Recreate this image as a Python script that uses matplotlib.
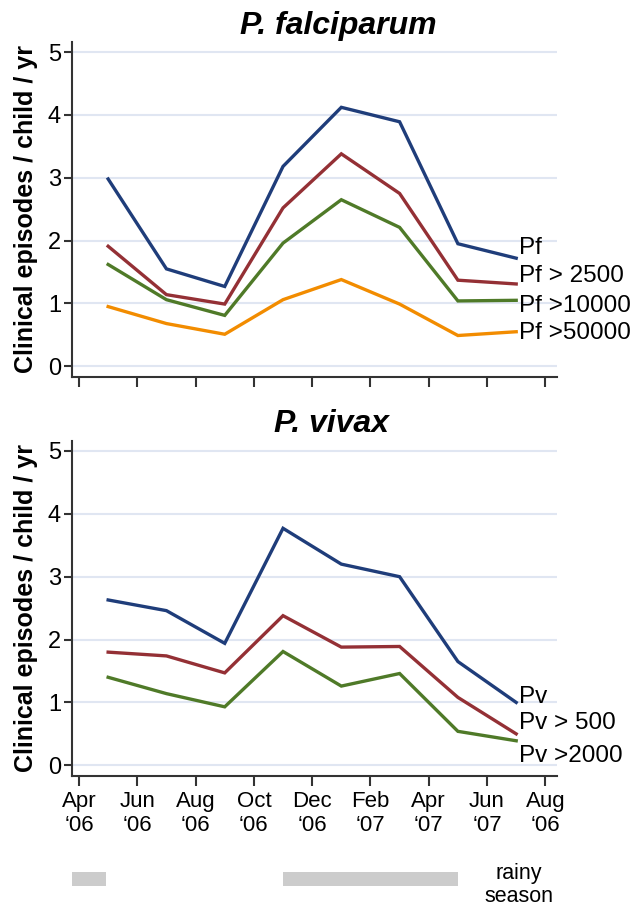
import numpy as np
from matplotlib import pyplot as plt
from matplotlib.patches import Rectangle

plt.rcParams["font.family"] = ["Liberation Sans", "DejaVu Sans"]

# months counted from Apr '06 (0) to Aug '07 (16)
tick_months = [0, 2, 4, 6, 8, 10, 12, 14, 16]
tick_labels = ["Apr\n\u201806", "Jun\n\u201806", "Aug\n\u201806", "Oct\n\u201806", "Dec\n\u201806",
               "Feb\n\u201807", "Apr\n\u201807", "Jun\n\u201807", "Aug\n\u201806"]
survey_months = [1, 3, 5, 7, 9, 11, 13, 15]

pf_all = [2.98, 1.55, 1.27, 3.18, 4.12, 3.89, 1.95, 1.72]
pf_2500 = [1.91, 1.14, 0.99, 2.52, 3.38, 2.75, 1.37, 1.31]
pf_10000 = [1.62, 1.06, 0.81, 1.96, 2.65, 2.21, 1.04, 1.05]
pf_50000 = [0.95, 0.68, 0.51, 1.06, 1.38, 0.99, 0.49, 0.55]

pv_all = [2.63, 2.46, 1.94, 3.77, 3.20, 3.00, 1.65, 1.00]
pv_500 = [1.80, 1.74, 1.47, 2.38, 1.88, 1.89, 1.08, 0.50]
pv_2000 = [1.40, 1.14, 0.93, 1.81, 1.26, 1.46, 0.54, 0.39]

pf_names = ["Pf", "Pf > 2500", "Pf >10000", "Pf >50000"]
pv_names = ["Pv", "Pv > 500", "Pv >2000"]

# rainy season spans (month index)
rainy_start = [-0.24, 7.0]
rainy_end = [0.93, 13.0]

BLUE, RED, GREEN, ORANGE = "#1f3d7a", "#943035", "#4f7a28", "#f28c00"
GRID = "#e0e6f2"

XLIM = (-0.24, 16.4)
YLIM = (-0.17, 5.16)
AX_LEFT, AX_W = 72 / 642, 485 / 642


def setup_axes(ax, show_xlabels):
    for s in ("top", "right"):
        ax.spines[s].set_visible(False)
    for s in ("left", "bottom"):
        ax.spines[s].set_color("#333333")
        ax.spines[s].set_linewidth(1.5)
    ax.set_xlim(XLIM)
    ax.set_ylim(YLIM)
    ax.set_yticks(range(6))
    ax.set_yticklabels([str(i) for i in range(6)], fontsize=17)
    ax.set_xticks(tick_months)
    if show_xlabels:
        ax.set_xticklabels(tick_labels, fontsize=16, linespacing=1.2)
    else:
        ax.set_xticklabels([])
    ax.tick_params(axis="x", length=7, width=1.5, color="#333333", pad=4)
    ax.tick_params(axis="y", length=6, width=1.5, color="#333333", pad=2)
    ax.set_axisbelow(True)
    ax.yaxis.grid(color=GRID, linewidth=1.5)
    ax.set_ylabel("Clinical episodes / child / yr", fontsize=18, fontweight="bold", labelpad=7)


def draw_series(ax, series, names, colors, label_ys):
    for vals, name, col, ly in zip(series, names, colors, label_ys):
        ax.plot(survey_months, vals, color=col, linewidth=2.4, solid_joinstyle="miter")
        ax.text(15.1, ly, name, fontsize=17.5, va="center", ha="left", clip_on=False)


fig = plt.figure(figsize=(6.42, 9.08), dpi=100)

ax1 = fig.add_axes([AX_LEFT, 0.5848, AX_W, 0.369])
setup_axes(ax1, False)
draw_series(ax1, [pf_all, pf_2500, pf_10000, pf_50000], pf_names,
            [BLUE, RED, GREEN, ORANGE], [1.88, 1.43, 0.96, 0.53])

ax2 = fig.add_axes([AX_LEFT, 0.1454, AX_W, 0.369])
setup_axes(ax2, True)
draw_series(ax2, [pv_all, pv_500, pv_2000], pv_names,
            [BLUE, RED, GREEN], [1.09, 0.68, 0.14])

fig.text(338 / 642, 1 - 26 / 908, "P. falciparum", fontsize=23, fontweight="bold",
         fontstyle="italic", ha="center", va="center")
fig.text(331 / 642, 1 - 424 / 908, "P. vivax", fontsize=23, fontweight="bold",
         fontstyle="italic", ha="center", va="center")

# rainy season strip
ax3 = fig.add_axes([AX_LEFT, 1 - 888 / 908, AX_W, 18 / 908])
ax3.set_xlim(XLIM)
ax3.set_ylim(0, 1)
ax3.axis("off")
for a, b in zip(rainy_start, rainy_end):
    ax3.add_patch(Rectangle((a, 0.1), b - a, 0.8, color="#cccccc", linewidth=0))
fig.text(519 / 642, 1 - 885 / 908, "rainy\nseason", fontsize=15.5, ha="center", va="center",
         linespacing=1.15)

fig.savefig("out.png", dpi=100)
